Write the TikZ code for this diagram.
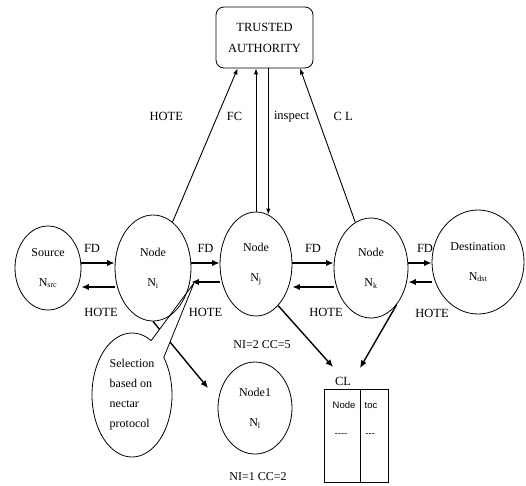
\documentclass[tikz,border=0pt]{standalone}
\usepackage{fontspec}
\setmainfont{Liberation Serif}
\newfontfamily\tabfont{Liberation Sans}
\usetikzlibrary{shapes.geometric,shapes.callouts,arrows.meta,backgrounds}

\tikzset{
	peer/.style={ellipse, draw, line width=0.8pt, align=center, inner sep=0pt, font=\fontsize{12}{13}\selectfont},
	hop/.style={line width=1.8pt, -{Latex[length=7.5pt,width=6.5pt]}},
	report/.style={line width=0.9pt, -{Latex[length=6pt,width=4.5pt]}},
	lbl/.style={inner sep=1pt, font=\fontsize{12.5}{14}\selectfont},
	cell/.style={inner sep=0pt, font=\tabfont\fontsize{9.5}{11}\selectfont},
}

\begin{document}
\begin{tikzpicture}[x=1pt,y=-1pt]
		\useasboundingbox (0,0) rectangle (526,485);

		% Callout first, so that the nodes stay on top of it
		\coordinate (selptr) at (194,283);
		\node (sel) [ellipse callout, draw, fill=white, line width=0.8pt, minimum width=80pt, minimum height=124pt, callout absolute pointer={(selptr)}, callout pointer arc=24, align=left, inner sep=0pt, font=\fontsize{12}{20}\selectfont] at (132,395) {Selection\\based on\\nectar\\protocol};

		% Define the nodes
		\node (ta) [draw, rounded corners=8pt, line width=0.8pt, minimum width=97pt, minimum height=61pt, align=center, font=\fontsize{12.5}{21}\selectfont] at (264.5,37.5) {TRUSTED\\AUTHORITY};
		\node (src) [peer, minimum width=66pt, minimum height=84pt] at (48,268) {Source\\[17pt]N\textsubscript{src}};
		\node (ni) [peer, minimum width=76pt, minimum height=106pt] at (153,268) {Node\\[17pt]N\textsubscript{i}};
		\node (nj) [peer, minimum width=72pt, minimum height=104pt] at (256,264) {Node\\[17pt]N\textsubscript{j}};
		\node (nk) [peer, minimum width=74pt, minimum height=100pt] at (371,268) {Node\\[17pt]N\textsubscript{k}};
		\node (dst) [peer, minimum width=92pt, minimum height=104pt] at (478,262) {Destination\\[17pt]N\textsubscript{dst}};
		\node (nl) [peer, minimum width=74pt, minimum height=92pt] at (255,408) {Node1\\[17pt]N\textsubscript{l}};

		% Counters under the nodes
		\node (cntj) [lbl, font=\fontsize{12}{14}\selectfont] at (262,345) {NI=2 CC=5};
		\node (cntl) [lbl, font=\fontsize{12}{14}\selectfont] at (258,477) {NI=1 CC=2};

		% Levels of the forward and back arrows
		\coordinate (fd) at (0,263);
		\coordinate (hoa) at (0,287);
		\coordinate (hob) at (0,282);

		% Forward (FD) and back (HOTE) hops
		\draw[hop] (src.east |- fd) -- (ni.west |- fd) node[lbl, midway, above=9pt, xshift=-6pt] {FD};
		\draw[hop] (ni.west |- hoa) -- (src.east |- hoa) node[lbl, midway, below=19pt, xshift=3pt] {HOTE};
		\draw[hop] (ni.east |- fd) -- (nj.west |- fd) node[lbl, midway, above=9pt] {FD};
		\draw[hop] (nj.west |- hob) -- (ni.east |- hob) node[lbl, midway, below=24pt] {HOTE};
		\draw[hop] (nj.east |- fd) -- (nk.west |- fd) node[lbl, midway, above=9pt] {FD};
		\draw[hop] (nk.west |- hoa) -- (nj.east |- hoa) node[lbl, midway, below=19pt, xshift=13pt] {HOTE};
		\draw[hop] (nk.east |- fd) -- (dst.west |- fd) node[lbl, midway, above=9pt, xshift=5pt] {FD};
		\draw[hop] (dst.west |- hob) -- (nk.east |- hob) node[lbl, midway, below=25pt, xshift=12pt] {HOTE};

		% Reports to the trusted authority
		\draw[report] (ni.67) -- (ta.-131)
			node[lbl, pos=.69, left=33pt] {HOTE}
			node[lbl, pos=.69, right=8pt] {FC};
		\draw[report] (nj.north) -- (nj.north |- ta.south);
		\draw[report, line width=1.4pt] (nj.76 |- ta.south) -- (nj.76)
			node[lbl, pos=.33, right=4pt] {inspect};
		\draw[report] (nk.109) -- (ta.-41)
			node[lbl, pos=.69, right=15pt] {C L};

		% Selection of the next node (behind the callout)
		\coordinate (nlx) at (208,388);
		\begin{pgfonlayer}{background}
			\draw[hop, line width=1.4pt] (ni.south) -- (nlx);
		\end{pgfonlayer}

		% Conflict list
		\coordinate (cla) at (333,367);
		\coordinate (clb) at (360,368);
		\draw[hop, line width=1.4pt] (nj.-62) -- (cla);
		\draw[hop, line width=1.4pt] (nk.-55) -- (clb);
		\node (cl) [lbl] at (343,381) {CL};
		\node (tab) [draw, line width=0.9pt, minimum width=64pt, minimum height=93pt, inner sep=0pt] at (356,435.5) {};
		\draw[line width=0.9pt] ([xshift=4pt]tab.north) -- ([xshift=4pt]tab.south);
		\node (hnode) [cell] at (344,405) {Node};
		\node (htoc) [cell] at (371,405) {toc};
		\node (vnode) [cell] at (341,435) {-{}-{}-{}-};
		\node (vtoc) [cell] at (370,435) {-{}-{}-};
\end{tikzpicture}
\end{document}
